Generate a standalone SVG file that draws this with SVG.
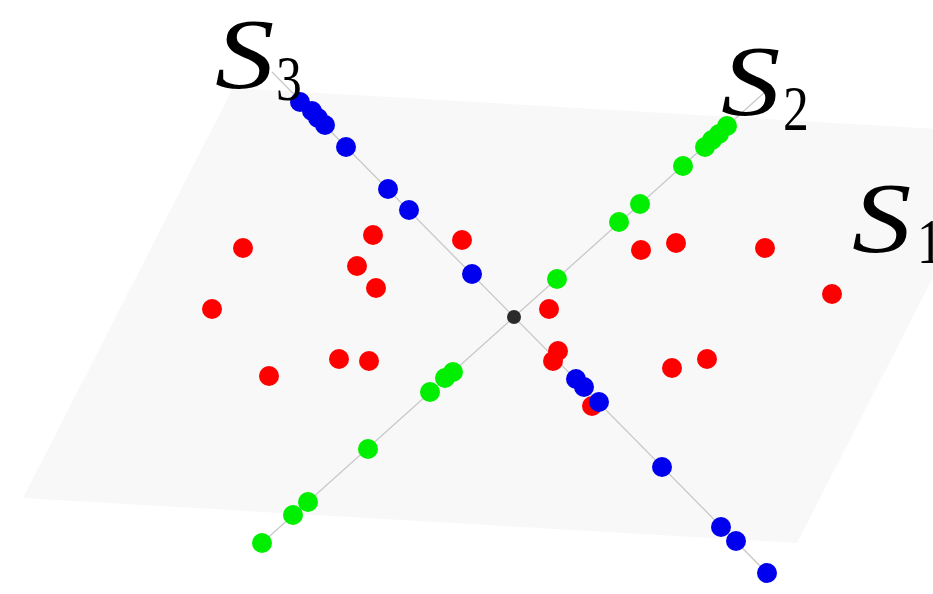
<svg xmlns="http://www.w3.org/2000/svg" width="933" height="594" viewBox="0 0 933 594">
  <style>
    .plane { fill: #f8f8f8; stroke: none; }
    .axis { stroke: #c8c8c8; stroke-width: 1.3; fill: none; }
    .r { fill: #ff0000; }
    .g { fill: #00ee00; }
    .b { fill: #0000ee; }
    .c { fill: #2b2b2b; }
    .lbl { font-family: "Liberation Serif", "DejaVu Serif", serif; fill: #000; }
    .big { font-size: 99px; font-style: italic; }
    .sub { font-size: 63px; }
  </style>
  <rect width="933" height="594" fill="#ffffff"/>

  <!-- ground plane -->
  <g id="plane">
    <polygon class="plane" points="233,88 1007,133 797,543 23,498"/>
  </g>

  <!-- the two subspace lines through the origin -->
  <g id="connectors">
    <line class="axis" x1="272" y1="72" x2="767" y2="573"/>
    <line class="axis" x1="765" y1="92" x2="262" y2="543"/>
  </g>

  <!-- scattered points of S1 -->
  <g id="s1-points">
    <circle class="r" cx="243" cy="248" r="10"/>
    <circle class="r" cx="373" cy="235" r="10"/>
    <circle class="r" cx="357" cy="266" r="10"/>
    <circle class="r" cx="376" cy="288" r="10"/>
    <circle class="r" cx="212" cy="309" r="10"/>
    <circle class="r" cx="339" cy="359" r="10"/>
    <circle class="r" cx="369" cy="361" r="10"/>
    <circle class="r" cx="269" cy="376" r="10"/>
    <circle class="r" cx="462" cy="240" r="10"/>
    <circle class="r" cx="549" cy="309" r="10"/>
    <circle class="r" cx="558" cy="351" r="10"/>
    <circle class="r" cx="553" cy="361" r="10"/>
    <circle class="r" cx="592" cy="406" r="10"/>
    <circle class="r" cx="641" cy="250" r="10"/>
    <circle class="r" cx="676" cy="243" r="10"/>
    <circle class="r" cx="765" cy="248" r="10"/>
    <circle class="r" cx="832" cy="294" r="10"/>
    <circle class="r" cx="672" cy="368" r="10"/>
    <circle class="r" cx="707" cy="359" r="10"/>
  </g>

  <!-- points on S2 -->
  <g id="s2-points">
    <circle class="g" cx="262" cy="543" r="10"/>
    <circle class="g" cx="293" cy="515" r="10"/>
    <circle class="g" cx="308" cy="502" r="10"/>
    <circle class="g" cx="368" cy="449" r="10"/>
    <circle class="g" cx="430" cy="392" r="10"/>
    <circle class="g" cx="445" cy="378" r="10"/>
    <circle class="g" cx="453" cy="372" r="10"/>
    <circle class="g" cx="557" cy="279" r="10"/>
    <circle class="g" cx="619" cy="222" r="10"/>
    <circle class="g" cx="640" cy="204" r="10"/>
    <circle class="g" cx="683" cy="166" r="10"/>
    <circle class="g" cx="705" cy="147" r="10"/>
    <circle class="g" cx="712" cy="140" r="10"/>
    <circle class="g" cx="719" cy="134" r="10"/>
    <circle class="g" cx="727" cy="126" r="10"/>
  </g>

  <!-- points on S3 -->
  <g id="s3-points">
    <circle class="b" cx="300" cy="102" r="10"/>
    <circle class="b" cx="312" cy="111" r="10"/>
    <circle class="b" cx="318" cy="118" r="10"/>
    <circle class="b" cx="325" cy="125" r="10"/>
    <circle class="b" cx="346" cy="147" r="10"/>
    <circle class="b" cx="388" cy="189" r="10"/>
    <circle class="b" cx="409" cy="210" r="10"/>
    <circle class="b" cx="472" cy="274" r="10"/>
    <circle class="b" cx="576" cy="379" r="10"/>
    <circle class="b" cx="584" cy="387" r="10"/>
    <circle class="b" cx="599" cy="402" r="10"/>
    <circle class="b" cx="662" cy="467" r="10"/>
    <circle class="b" cx="721" cy="527" r="10"/>
    <circle class="b" cx="736" cy="541" r="10"/>
    <circle class="b" cx="767" cy="573" r="10"/>
  </g>

  <!-- origin -->
  <g id="origin">
    <circle class="c" cx="514" cy="317" r="7"/>
  </g>

  <!-- subspace labels: wide slanted S with an upright subscript -->
  <g id="label-s3" class="lbl">
    <text class="big" transform="translate(215,87) scale(1.2,1)">S</text>
    <text class="sub" transform="translate(276,100) scale(0.82,1)">3</text>
  </g>
  <g id="label-s2" class="lbl">
    <text class="big" transform="translate(721,114) scale(1.2,1)">S</text>
    <text class="sub" transform="translate(783,130) scale(0.82,1)">2</text>
  </g>
  <g id="label-s1" class="lbl">
    <text class="big" transform="translate(852,251) scale(1.2,1)">S</text>
    <text class="sub" transform="translate(917,263) scale(0.82,1)">1</text>
  </g>
</svg>
